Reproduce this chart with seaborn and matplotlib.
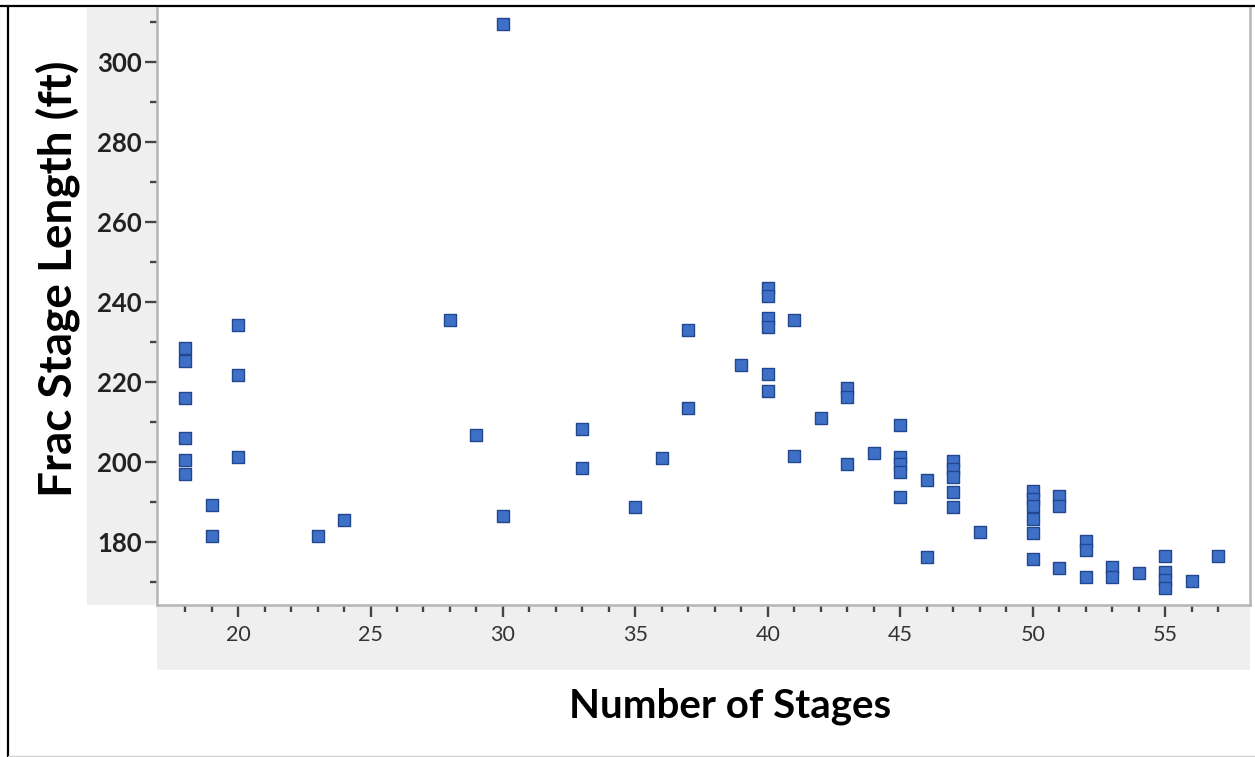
import matplotlib
matplotlib.use("Agg")
import matplotlib.pyplot as plt
from matplotlib.patches import Rectangle
from matplotlib.lines import Line2D
from matplotlib.ticker import FixedLocator
import seaborn as sns
import pandas as pd

# Number of stages per well and the resulting frac stage length (ft)
stages_18 = [228.5, 225.2, 216.0, 205.9, 200.4, 196.9]
stages_19 = [189.2, 181.5]
stages_20 = [234.3, 221.7, 201.3]
stages_23 = [181.5]
stages_24 = [185.4]
stages_28 = [235.4]
stages_29 = [206.8]
stages_30 = [309.4, 186.4]
stages_33 = [208.1, 198.4]
stages_35 = [188.8]
stages_36 = [201.0]
stages_37 = [232.9, 213.5]
stages_39 = [224.2]
stages_40 = [243.4, 241.3, 236.0, 233.8, 221.9, 217.8]
stages_41 = [235.4, 201.4]
stages_42 = [210.9]
stages_43 = [218.5, 216.3, 199.4]
stages_44 = [202.3]
stages_45 = [209.2, 201.3, 199.4, 197.5, 191.1]
stages_46 = [195.4, 176.3]
stages_47 = [200.3, 198.1, 196.1, 192.5, 188.8]
stages_48 = [182.5]
stages_50 = [192.8, 190.8, 188.9, 185.8, 182.3, 175.8]
stages_51 = [191.4, 188.9, 173.4]
stages_52 = [180.2, 177.9, 171.3]
stages_53 = [173.8, 171.3]
stages_54 = [172.1]
stages_55 = [176.4, 172.5, 170.4, 168.4]
stages_56 = [170.3]
stages_57 = [176.4]

groups = {
    18: stages_18, 19: stages_19, 20: stages_20, 23: stages_23, 24: stages_24,
    28: stages_28, 29: stages_29, 30: stages_30, 33: stages_33, 35: stages_35,
    36: stages_36, 37: stages_37, 39: stages_39, 40: stages_40, 41: stages_41,
    42: stages_42, 43: stages_43, 44: stages_44, 45: stages_45, 46: stages_46,
    47: stages_47, 48: stages_48, 50: stages_50, 51: stages_51, 52: stages_52,
    53: stages_53, 54: stages_54, 55: stages_55, 56: stages_56, 57: stages_57,
}

x_major = [20, 25, 30, 35, 40, 45, 50, 55]
x_minor = list(range(18, 58))
y_major = [180, 200, 220, 240, 260, 280, 300]
y_minor = list(range(170, 320, 10))

rows = [(n, v) for n, vals in groups.items() for v in vals]
df = pd.DataFrame(rows, columns=["Number of Stages", "Frac Stage Length (ft)"])

sns.set_style("white")
plt.rcParams["font.family"] = ["Lato", "DejaVu Sans"]

W, H = 1255, 757
fig = plt.figure(figsize=(W / 100, H / 100), dpi=100)
fig.patch.set_facecolor("white")

def fx(px):
    return px / W

def fy(py):
    return 1 - py / H

# light grey bands behind the axis scales
band = "#efefef"
fig.patches.append(Rectangle((fx(87), fy(605)), fx(157) - fx(87), fy(8) - fy(605),
                             transform=fig.transFigure, facecolor=band,
                             edgecolor="none", zorder=-5))
fig.patches.append(Rectangle((fx(157), fy(670)), fx(1250) - fx(157), fy(605) - fy(670),
                             transform=fig.transFigure, facecolor=band,
                             edgecolor="none", zorder=-5))

ax = fig.add_axes([fx(157), fy(605), fx(1250) - fx(157), fy(8) - fy(605)])
ax.set_facecolor("white")

sns.scatterplot(data=df, x="Number of Stages", y="Frac Stage Length (ft)",
                marker="s", s=76, color="#3f70c8", edgecolor="#23478f",
                linewidth=1.0, ax=ax, zorder=3)

ax.set_xlim(16.94, 58.2)
ax.set_ylim(164.2, 313.4)

ax.xaxis.set_major_locator(FixedLocator(x_major))
ax.xaxis.set_minor_locator(FixedLocator(x_minor))
ax.yaxis.set_major_locator(FixedLocator(y_major))
ax.yaxis.set_minor_locator(FixedLocator(y_minor))

ax.tick_params(axis="x", which="major", direction="out", length=8.5, width=1.7,
               color="#444444", labelsize=15.5, labelcolor="#333333", pad=6,
               bottom=True)
ax.tick_params(axis="x", which="minor", direction="out", length=5, width=1.7,
               color="#444444", bottom=True)
ax.tick_params(axis="y", which="major", direction="out", length=9, width=1.7,
               color="#444444", labelsize=18.5, labelcolor="#222222", pad=2,
               left=True)
ax.tick_params(axis="y", which="minor", direction="out", length=5, width=1.7,
               color="#444444", left=True)
for lab in ax.get_yticklabels():
    lab.set_fontweight("bold")

for side in ["left", "bottom", "right"]:
    ax.spines[side].set_visible(True)
    ax.spines[side].set_color("#b5b5b5")
    ax.spines[side].set_linewidth(1.8)
ax.spines["top"].set_visible(False)

ax.set_xlabel("")
ax.set_ylabel("")

fig.text(fx(730), fy(706), "Number of Stages", ha="center", va="center",
         fontsize=29, fontweight="bold", color="black")
fig.text(fx(58), fy(279), "Frac Stage Length (ft)", ha="center", va="center",
         rotation=90, fontsize=33, fontweight="bold", color="black")

# outer frame lines
fig.lines.append(Line2D([0, 1], [fy(5.5), fy(5.5)], transform=fig.transFigure,
                        color="black", linewidth=1.6))
fig.lines.append(Line2D([fx(7.5), fx(7.5)], [0, fy(5.5)], transform=fig.transFigure,
                        color="black", linewidth=1.6))
fig.lines.append(Line2D([fx(7.5), 1], [fy(756), fy(756)], transform=fig.transFigure,
                        color="#d0d0d0", linewidth=1.0))

fig.savefig("out.png", dpi=100)
